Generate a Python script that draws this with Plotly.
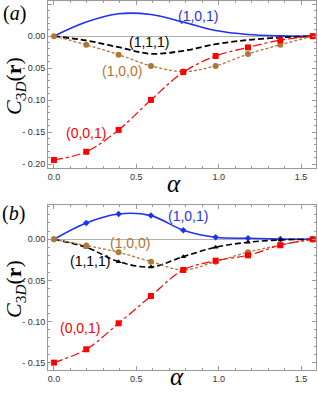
import math
import plotly.graph_objects as go

# alpha sample points k*pi/16
alpha = [k * math.pi / 16 for k in range(9)]

# Panel (a)
a_001 = [-0.1935, -0.1806, -0.1465, -0.0996, -0.0562, -0.0310, -0.0175, -0.0062, 0.0]
a_100 = [0.0, -0.0134, -0.0289, -0.0464, -0.0552, -0.0464, -0.0279, -0.0134, 0.0]
a_111 = [0.0, -0.0067, -0.0172, -0.0275, -0.0228, -0.0125, -0.0060, -0.0020, 0.0]
a_101 = [0.0, 0.0220, 0.0350, 0.0338, 0.0220, 0.0088, 0.0026, 0.0005, 0.0]

# Panel (b)
b_001 = [-0.1500, -0.1338, -0.1022, -0.0690, -0.0373, -0.0260, -0.0195, -0.0073, 0.0]
b_100 = [0.0, -0.0077, -0.0158, -0.0272, -0.0373, -0.0272, -0.0158, -0.0069, 0.0]
b_111 = [0.0, -0.0097, -0.0272, -0.0337, -0.0211, -0.0097, -0.0036, -0.0008, 0.0]
b_101 = [0.0, 0.0199, 0.0308, 0.0288, 0.0110, 0.0024, 0.0012, 0.0004, 0.0]

xticks = [0.0, 0.5, 1.0, 1.5]
xticktext = ["0.0", "0.5", "1.0", "1.5"]
a_yticks = [0.05, 0.0, -0.05, -0.10, -0.15, -0.20]
a_yticktext = ["0.05", "0.00", "- 0.05", "- 0.10", "- 0.15", "- 0.20"]
b_yticks = [0.0, -0.05, -0.10, -0.15]
b_yticktext = ["0.00", "- 0.05", "- 0.10", "- 0.15"]

RED = "rgb(255,0,0)"
BROWN = "rgb(176,118,56)"
BLACK = "black"
BLUE = "rgb(30,50,240)"

fig = go.Figure()

def add(x, y, color, dash, width, xa, ya, marker=None):
    kw = dict(x=x, y=y, xaxis=xa, yaxis=ya, showlegend=False, hoverinfo="skip",
              line=dict(color=color, dash=dash, width=width, shape="spline", smoothing=1.0))
    if marker:
        kw["mode"] = "lines+markers"
        kw["marker"] = marker
    else:
        kw["mode"] = "lines"
    fig.add_trace(go.Scatter(**kw))

# (a)
add(alpha, a_101, BLUE, "solid", 1.6, "x", "y")
add(alpha, a_111, BLACK, "6px,3px", 1.8, "x", "y")
add(alpha, a_100, BROWN, "3px,2px", 1.3, "x", "y", dict(symbol="circle", size=6, color=BROWN))
add(alpha, a_001, RED, "dashdot", 1.2, "x", "y", dict(symbol="square", size=6, color=RED))
# (b)
add(alpha, b_101, BLUE, "solid", 1.6, "x2", "y2", dict(symbol="diamond", size=5, color=BLUE))
add(alpha, b_111, BLACK, "6px,3px", 1.6, "x2", "y2", dict(symbol="triangle-up", size=5, color=BLACK))
add(alpha, b_100, BROWN, "3px,2px", 1.3, "x2", "y2", dict(symbol="circle", size=6, color=BROWN))
add(alpha, b_001, RED, "dashdot", 1.2, "x2", "y2", dict(symbol="square", size=6, color=RED))

FRAME = "#9a9a9a"
TICKFONT = dict(family="Liberation Sans, Arial, sans-serif", size=9, color="#333")

def xaxis(anchor):
    return dict(range=[-0.036, 1.591], tickmode="array", tickvals=xticks, ticktext=xticktext,
                showgrid=False, zeroline=False, showline=True, linecolor=FRAME, linewidth=1,
                mirror="ticks", ticks="inside", ticklen=4, tickcolor=FRAME, tickfont=TICKFONT,
                minor=dict(ticks="inside", ticklen=2, dtick=0.1, tick0=0, tickcolor=FRAME, showgrid=False),
                anchor=anchor, automargin=False)

def yaxis(rng, tv, tt, domain, anchor):
    return dict(range=rng, tickmode="array", tickvals=tv, ticktext=tt, domain=domain,
                showgrid=False, zeroline=True, zerolinecolor="#b0b0b0", zerolinewidth=1,
                showline=True, linecolor=FRAME, linewidth=1, mirror="ticks",
                ticks="inside", ticklen=4, tickcolor=FRAME, tickfont=TICKFONT,
                minor=dict(ticks="inside", ticklen=2, dtick=0.01, tick0=0, tickcolor=FRAME, showgrid=False),
                anchor=anchor, automargin=False)

W, H = 318.0, 393.0
L, R, T, B = 48, 2, 1, 23
pw = W - L - R
ph = H - T - B
def py(pix):
    return (H - B - pix) / ph
def px(pix):
    return (pix - L) / pw

fig.update_layout(
    width=318, height=393,
    margin=dict(l=L, r=R, t=T, b=B),
    paper_bgcolor="white", plot_bgcolor="white",
    xaxis=xaxis("y"),
    yaxis=yaxis([-0.206, 0.055], a_yticks, a_yticktext, [py(168), py(1)], "x"),
    xaxis2=xaxis("y2"),
    yaxis2=yaxis([-0.159, 0.0417], b_yticks, b_yticktext, [py(370), py(205)], "x2"),
)

LBL = "Liberation Sans, Arial, sans-serif"
SERIF = "Liberation Serif, DejaVu Serif, serif"
ann = []
def pix_ann(x, y, text, color, size, font=LBL, angle=0):
    ann.append(dict(x=px(x), y=py(y), xref="paper", yref="paper", text=text,
                    showarrow=False, font=dict(family=font, size=size, color=color),
                    xanchor="center", yanchor="middle", textangle=angle))

# Panel (a) labels
pix_ann(198, 16, "(1,0,1)", BLUE, 14)
pix_ann(149, 42, "(1,1,1)", BLACK, 14)
pix_ann(122, 71, "(1,0,0)", BROWN, 14)
pix_ann(86, 133, "(0,0,1)", RED, 14)
# Panel (b) labels
pix_ann(188, 216, "(1,0,1)", BLUE, 14)
pix_ann(130, 243, "(1,0,0)", BROWN, 14)
pix_ann(90, 261, "(1,1,1)", BLACK, 14)
pix_ann(80, 328, "(0,0,1)", RED, 14)

# panel letters
pix_ann(14, 14, "(<i>a</i>)", BLACK, 20, SERIF)
pix_ann(13, 213, "(<i>b</i>)", BLACK, 20, SERIF)

# axis titles
ytitle = "<i>C</i><sub>3<i>D</i></sub>(<b>r</b>)"
pix_ann(15, 86, ytitle, BLACK, 22, SERIF, -90)
pix_ann(15, 289, ytitle, BLACK, 22, SERIF, -90)
pix_ann(174, 183, "<i>α</i>", BLACK, 25, SERIF)
pix_ann(177, 376, "<i>α</i>", BLACK, 25, SERIF)

fig.update_layout(annotations=ann)
fig.write_html("out.html", config={"displayModeBar": False},
               post_script="document.body.style.margin='0px';document.body.style.overflow='hidden';")
